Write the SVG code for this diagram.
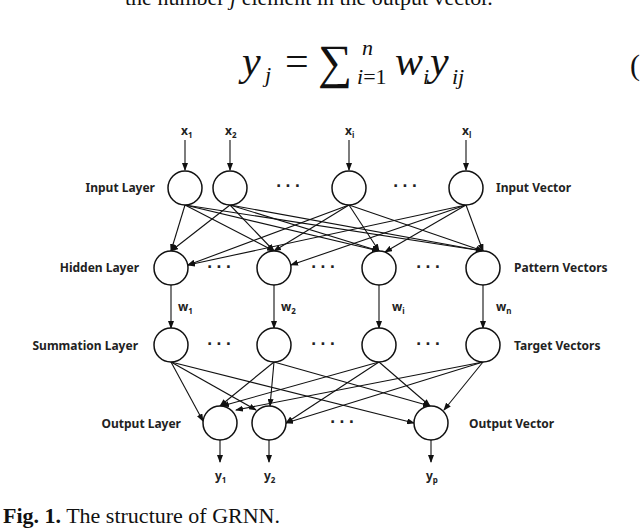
<svg xmlns="http://www.w3.org/2000/svg" width="640" height="528" viewBox="0 0 640 528">
<defs>
<marker id="a" markerWidth="8" markerHeight="6" refX="7" refY="3" orient="auto" markerUnits="userSpaceOnUse"><path d="M0,0 L8,3 L0,6 z" fill="#111"/></marker>
<style>
.n{fill:#fff;stroke:#111;stroke-width:1.5}
.l{font-family:"Noto Sans","DejaVu Sans",sans-serif;font-weight:bold;font-size:12px;fill:#222}
.s{font-family:"Noto Sans",sans-serif;font-weight:bold;font-size:8px;fill:#222}
.c line{stroke:#111;stroke-width:1.1;marker-end:url(#a)}
.d{font-family:"DejaVu Sans",sans-serif;font-weight:bold;font-size:14px;fill:#222;letter-spacing:4px}
.t{font-family:"Liberation Serif",serif;fill:#111}
</style>
</defs>
<rect width="640" height="528" fill="#fff"/>
<text class="t" x="125" y="5" font-size="22">the number <tspan font-style="italic">j</tspan> element in the output vector.</text>
<g class="t" font-style="italic" font-size="42">
<text x="242" y="75">y</text><text x="265" y="82" font-size="22">j</text>
<text x="285" y="75" font-style="normal">=</text>
<text x="318" y="78" font-style="normal" font-size="48">∑</text>
<text x="362" y="55" font-size="22">n</text>
<text x="357" y="84" font-size="22">i<tspan font-style="normal">=1</tspan></text>
<text x="395" y="75">w</text><text x="423" y="84" font-size="22">i</text>
<text x="430" y="75">y</text><text x="452" y="84" font-size="22">ij</text>
<text x="630" y="75" font-style="normal" font-size="30">(</text>
</g>
<g class="c" id="connectors">
<line x1="185" y1="140" x2="185" y2="170"/><line x1="230" y1="140" x2="230" y2="170"/><line x1="349" y1="140" x2="349" y2="170"/><line x1="466" y1="140" x2="466" y2="170"/>
<line x1="185" y1="205" x2="171" y2="251"/><line x1="185" y1="205" x2="274" y2="251"/><line x1="185" y1="205" x2="379" y2="251"/><line x1="185" y1="205" x2="483" y2="251"/>
<line x1="230" y1="205" x2="171" y2="251"/><line x1="230" y1="205" x2="274" y2="251"/><line x1="230" y1="205" x2="379" y2="251"/><line x1="230" y1="205" x2="483" y2="251"/>
<line x1="349" y1="205" x2="188" y2="265"/><line x1="349" y1="205" x2="274" y2="251"/><line x1="349" y1="205" x2="379" y2="251"/><line x1="349" y1="205" x2="483" y2="251"/>
<line x1="466" y1="205" x2="188" y2="265"/><line x1="466" y1="205" x2="291" y2="265"/><line x1="466" y1="205" x2="385" y2="252"/><line x1="466" y1="205" x2="483" y2="251"/>
<line x1="171" y1="285" x2="171" y2="328"/><line x1="274" y1="285" x2="274" y2="328"/><line x1="379" y1="285" x2="379" y2="328"/><line x1="483" y1="285" x2="483" y2="328"/>
<line x1="171" y1="362" x2="203" y2="421"/><line x1="171" y1="362" x2="256" y2="410"/><line x1="171" y1="362" x2="414" y2="423"/>
<line x1="274" y1="362" x2="220" y2="406"/><line x1="274" y1="362" x2="270" y2="406"/><line x1="274" y1="362" x2="430" y2="406"/>
<line x1="379" y1="362" x2="222" y2="406"/><line x1="379" y1="362" x2="286" y2="423"/><line x1="379" y1="362" x2="430" y2="406"/>
<line x1="483" y1="362" x2="236" y2="410"/><line x1="483" y1="362" x2="286" y2="423"/><line x1="483" y1="362" x2="444" y2="410"/>
<line x1="220" y1="440" x2="220" y2="462"/><line x1="269" y1="440" x2="269" y2="462"/><line x1="431" y1="440" x2="431" y2="462"/>
</g>
<g id="input"><circle class="n" cx="185" cy="188" r="17"/><circle class="n" cx="230" cy="188" r="17"/><circle class="n" cx="349" cy="188" r="17"/><circle class="n" cx="466" cy="188" r="17"/></g>
<g id="hidden"><circle class="n" cx="171" cy="268" r="17"/><circle class="n" cx="274" cy="268" r="17"/><circle class="n" cx="379" cy="268" r="17"/><circle class="n" cx="483" cy="268" r="17"/></g>
<g id="summation"><circle class="n" cx="171" cy="345" r="17"/><circle class="n" cx="274" cy="345" r="17"/><circle class="n" cx="379" cy="345" r="17"/><circle class="n" cx="483" cy="345" r="17"/></g>
<g id="output"><circle class="n" cx="220" cy="423" r="17"/><circle class="n" cx="269" cy="423" r="17"/><circle class="n" cx="431" cy="423" r="17"/></g>
<g id="labels">
<text class="l" x="181" y="135">x<tspan class="s" dy="3">1</tspan></text>
<text class="l" x="225" y="135">x<tspan class="s" dy="3">2</tspan></text>
<text class="l" x="345" y="135">x<tspan class="s" dy="3">i</tspan></text>
<text class="l" x="462" y="135">x<tspan class="s" dy="3">l</tspan></text>
<text class="l" x="155" y="192" text-anchor="end">Input Layer</text>
<text class="l" x="139" y="272" text-anchor="end">Hidden Layer</text>
<text class="l" x="138" y="350" text-anchor="end">Summation Layer</text>
<text class="l" x="181" y="428" text-anchor="end">Output Layer</text>
<text class="l" x="496" y="192">Input Vector</text>
<text class="l" x="514" y="272">Pattern Vectors</text>
<text class="l" x="514" y="350">Target Vectors</text>
<text class="l" x="469" y="428">Output Vector</text>
<text class="l" x="178" y="311">w<tspan class="s" dy="3">1</tspan></text>
<text class="l" x="281" y="311">w<tspan class="s" dy="3">2</tspan></text>
<text class="l" x="392" y="311">w<tspan class="s" dy="3">i</tspan></text>
<text class="l" x="496" y="311">w<tspan class="s" dy="3">n</tspan></text>
<text class="l" x="215" y="480">y<tspan class="s" dy="3">1</tspan></text>
<text class="l" x="264" y="480">y<tspan class="s" dy="3">2</tspan></text>
<text class="l" x="426" y="480">y<tspan class="s" dy="3">p</tspan></text>
<g class="d"><text x="276" y="191">···</text><text x="393" y="191">···</text>
<text x="207" y="272">···</text><text x="311" y="272">···</text><text x="416" y="272">···</text>
<text x="207" y="349">···</text><text x="311" y="349">···</text><text x="416" y="349">···</text>
<text x="330" y="427">···</text></g>
</g>
<text class="t" x="3" y="523" font-size="22"><tspan font-weight="bold">Fig. 1.</tspan> The structure of GRNN.</text>
</svg>
